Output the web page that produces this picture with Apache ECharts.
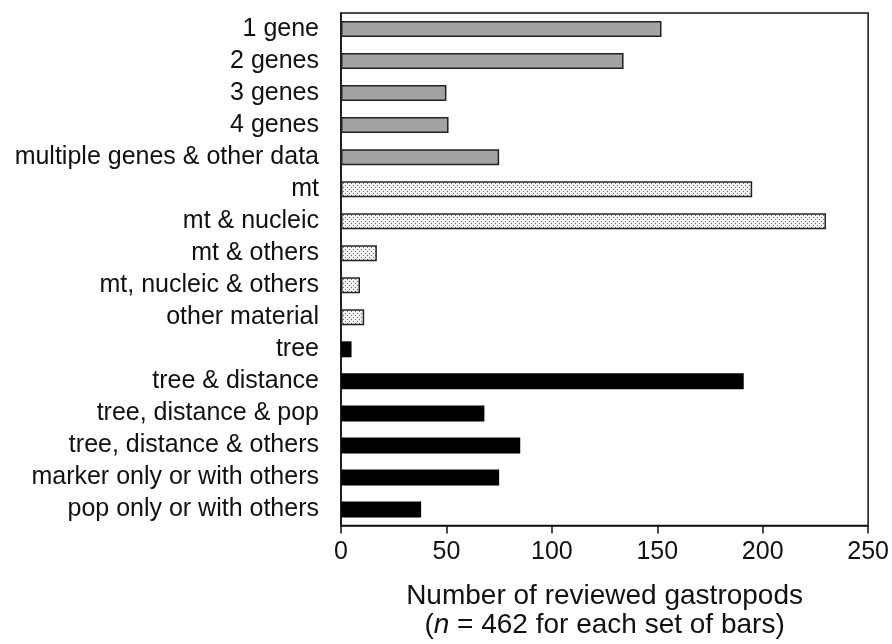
<!DOCTYPE html>
<html>
<head>
<meta charset="utf-8">
<script src="https://cdn.jsdelivr.net/npm/echarts@6/dist/echarts.min.js"></script>
<style>
  html, body { margin: 0; padding: 0; background: #fff; }
  #chart { width: 892px; height: 644px; }
</style>
</head>
<body>
<div id="chart"></div>
<script>
// categories top to bottom
const categories = [
  '1 gene', '2 genes', '3 genes', '4 genes', 'multiple genes & other data',
  'mt', 'mt & nucleic', 'mt & others', 'mt, nucleic & others', 'other material',
  'tree', 'tree & distance', 'tree, distance & pop', 'tree, distance & others',
  'marker only or with others', 'pop only or with others'
]
const values = [152, 134, 50, 51, 75, 195, 230, 17, 9, 11, 5, 191, 68, 85, 75, 38]
// which set of bars each category belongs to
const groups = ['gene', 'gene', 'gene', 'gene', 'gene',
  'material', 'material', 'material', 'material', 'material',
  'analysis', 'analysis', 'analysis', 'analysis', 'analysis', 'analysis']
const xTicks = [0, 50, 100, 150, 200, 250]

const FONT = 'Liberation Sans, Arial, sans-serif'

// dotted fill for the middle set
function dotPattern() {
  const c = document.createElement('canvas')
  c.width = 4
  c.height = 4
  const ctx = c.getContext('2d')
  ctx.fillStyle = '#f2f2f2'
  ctx.fillRect(0, 0, 4, 4)
  ctx.fillStyle = '#6a6a6a'
  ctx.fillRect(1, 1, 1, 1)
  ctx.fillRect(3, 3, 1, 1)
  return c
}

const styles = {
  gene: { color: '#a3a3a3', borderColor: '#222', borderWidth: 1.5 },
  material: { color: { image: dotPattern(), repeat: 'repeat' }, borderColor: '#222', borderWidth: 1.5 },
  analysis: { color: '#000', borderColor: '#000', borderWidth: 0 }
}

const chart = echarts.init(document.getElementById('chart'), null, { renderer: 'canvas' })

chart.setOption({
  animation: false,
  textStyle: { fontFamily: FONT },
  grid: {
    left: 341, right: 23, top: 13, bottom: 116,
    show: true, borderColor: '#111', borderWidth: 1.5, backgroundColor: 'transparent'
  },
  xAxis: {
    type: 'value',
    min: xTicks[0],
    max: xTicks[xTicks.length - 1],
    interval: 50,
    splitLine: { show: false },
    axisLine: { show: true, lineStyle: { color: '#111', width: 1.5 } },
    axisTick: { show: true, length: 8, lineStyle: { color: '#111', width: 1.5 } },
    axisLabel: { color: '#111', fontSize: 25, margin: 14, fontFamily: FONT },
    name: '{a|Number of reviewed gastropods}\n{a|(}{i|n}{a| = 462 for each set of bars)}',
    nameLocation: 'middle',
    nameGap: 56,
    nameTextStyle: {
      rich: {
        a: { fontSize: 28, color: '#111', lineHeight: 29, fontFamily: FONT },
        i: { fontSize: 28, color: '#111', lineHeight: 29, fontStyle: 'italic', fontFamily: FONT }
      }
    }
  },
  yAxis: {
    type: 'category',
    data: categories,
    inverse: true,
    axisLine: { show: true, lineStyle: { color: '#111', width: 1.5 } },
    axisTick: { show: false },
    axisLabel: { color: '#111', fontSize: 25, margin: 22, interval: 0, fontFamily: FONT },
    splitLine: { show: false }
  },
  series: [{
    type: 'bar',
    barWidth: 16,
    data: values.map((v, i) => ({ value: v, itemStyle: styles[groups[i]] }))
  }]
})
</script>
</body>
</html>
